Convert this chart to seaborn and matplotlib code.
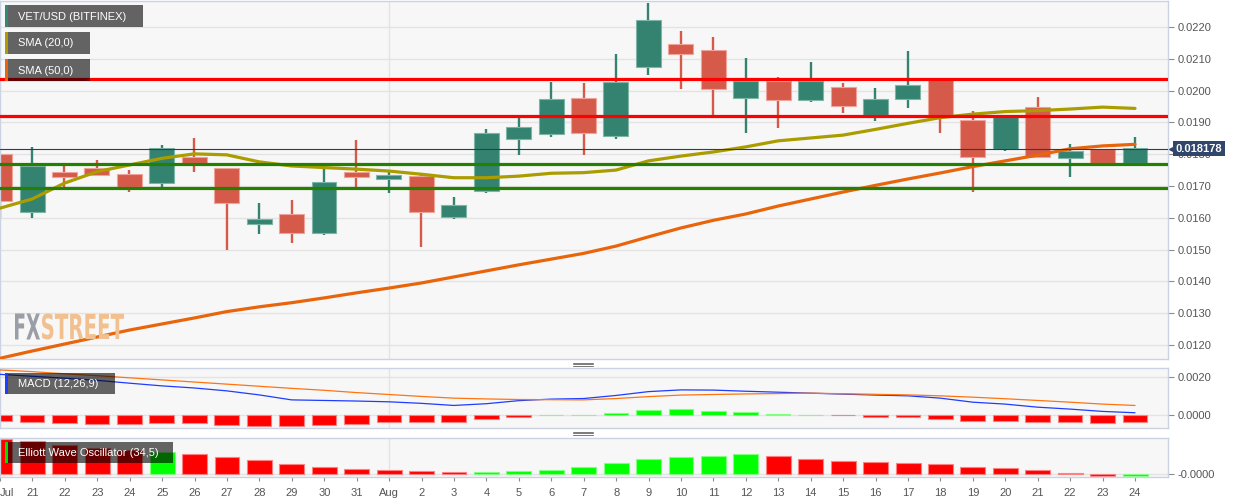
import matplotlib
matplotlib.use("Agg")
import matplotlib.pyplot as plt
import matplotlib.transforms as mtrans
from matplotlib.patches import Rectangle, PathPatch
from matplotlib.lines import Line2D
from matplotlib.textpath import TextPath
from matplotlib.font_manager import FontProperties
import numpy as np
import seaborn as sns

# ---- data (VET/USD daily, 20 Jul - 24 Aug) ----
day_labels = ["Jul", "21", "22", "23", "24", "25", "26", "27", "28", "29", "30", "31",
              "Aug", "2", "3", "4", "5", "6", "7", "8", "9", "10", "11", "12", "13",
              "14", "15", "16", "17", "18", "19", "20", "21", "22", "23", "24"]

opens = [0.01800, 0.01617, 0.01745, 0.01756, 0.01738, 0.01709, 0.01790, 0.01756, 0.01580,
         0.01612, 0.01551, 0.01743, 0.01722, 0.01731, 0.01604, 0.01685, 0.01849, 0.01863,
         0.01978, 0.01857, 0.02073, 0.02147, 0.02128, 0.01978, 0.02030, 0.01970, 0.02012,
         0.01922, 0.01975, 0.02036, 0.01907, 0.01817, 0.01948, 0.01789, 0.01815, 0.01771]
closes = [0.01654, 0.01764, 0.01727, 0.01734, 0.01698, 0.01819, 0.01773, 0.01646, 0.01597,
          0.01553, 0.01714, 0.01729, 0.01734, 0.01617, 0.01641, 0.01866, 0.01885, 0.01975,
          0.01868, 0.02026, 0.02221, 0.02114, 0.02004, 0.02030, 0.01970, 0.02029, 0.01953,
          0.01974, 0.02017, 0.01922, 0.01790, 0.01916, 0.01792, 0.01810, 0.01771, 0.01818]
highs = [0.01802, 0.01822, 0.01764, 0.01782, 0.01750, 0.01829, 0.01850, 0.01756, 0.01646,
         0.01656, 0.01761, 0.01845, 0.01745, 0.01733, 0.01665, 0.01878, 0.01916, 0.02027,
         0.02023, 0.02114, 0.02276, 0.02188, 0.02168, 0.02102, 0.02044, 0.02089, 0.02023,
         0.02007, 0.02126, 0.02036, 0.01937, 0.01920, 0.01979, 0.01831, 0.01815, 0.01853]
lows = [0.01599, 0.01598, 0.01698, 0.01733, 0.01680, 0.01698, 0.01745, 0.01499, 0.01548,
        0.01520, 0.01545, 0.01695, 0.01677, 0.01509, 0.01597, 0.01677, 0.01797, 0.01855,
        0.01797, 0.01847, 0.02048, 0.02004, 0.01923, 0.01866, 0.01881, 0.01963, 0.01929,
        0.01905, 0.01946, 0.01866, 0.01680, 0.01811, 0.01792, 0.01727, 0.01771, 0.01771]

sma20 = [0.01630, 0.01659, 0.01709, 0.01745, 0.01766, 0.01787, 0.01801, 0.01798, 0.01776,
         0.01763, 0.01758, 0.01753, 0.01747, 0.01737, 0.01726, 0.01726, 0.01731, 0.01740,
         0.01742, 0.01750, 0.01779, 0.01794, 0.01807, 0.01823, 0.01842, 0.01851, 0.01860,
         0.01878, 0.01897, 0.01915, 0.01926, 0.01934, 0.01937, 0.01942, 0.01948, 0.01944]
sma50 = [0.01158, 0.01181, 0.01203, 0.01225, 0.01247, 0.01266, 0.01285, 0.01305, 0.01320,
         0.01333, 0.01348, 0.01364, 0.01379, 0.01395, 0.01414, 0.01433, 0.01452, 0.01470,
         0.01488, 0.01511, 0.01540, 0.01568, 0.01592, 0.01612, 0.01637, 0.01659, 0.01681,
         0.01702, 0.01722, 0.01741, 0.01761, 0.01779, 0.01797, 0.01817, 0.01826, 0.01831]

resistance = [0.020355, 0.019201]
support = [0.017692, 0.016928]
last_price = 0.018178

macd_line = [0.00212, 0.00202, 0.00192, 0.00181, 0.00166, 0.00152, 0.00141, 0.00126, 0.00105,
             0.00079, 0.00076, 0.00073, 0.00069, 0.00061, 0.00050, 0.00059, 0.00075, 0.00083,
             0.00086, 0.00102, 0.00122, 0.00131, 0.00130, 0.00124, 0.00119, 0.00114, 0.00109,
             0.00104, 0.00100, 0.00088, 0.00067, 0.00057, 0.00041, 0.00031, 0.00019, 0.00012]
macd_signal = [0.00235, 0.00226, 0.00215, 0.00205, 0.00194, 0.00183, 0.00172, 0.00161, 0.00150,
               0.00139, 0.00129, 0.00117, 0.00107, 0.00097, 0.00088, 0.00084, 0.00081, 0.00080,
               0.00079, 0.00086, 0.00096, 0.00104, 0.00107, 0.00110, 0.00112, 0.00114, 0.00111,
               0.00108, 0.00105, 0.00100, 0.00093, 0.00085, 0.00076, 0.00067, 0.00057, 0.00050]
macd_hist = [-0.00031, -0.00036, -0.00041, -0.00044, -0.00047, -0.00041, -0.00040, -0.00050,
             -0.00055, -0.00059, -0.00052, -0.00044, -0.00038, -0.00038, -0.00038, -0.00023,
             -0.00010, 0.00001, 0.00001, 0.00012, 0.00027, 0.00031, 0.00020, 0.00015, 0.00006,
             0.00001, -0.00002, -0.00010, -0.00010, -0.00019, -0.00031, -0.00031, -0.00038,
             -0.00038, -0.00041, -0.00038]

ewo = [0.000700, 0.000660, 0.000594, 0.000534, 0.000480, 0.000440, 0.000406, 0.000354, 0.000280,
       0.000206, 0.000140, 0.000100, 0.000080, 0.000060, 0.000046, 0.000054, 0.000060, 0.000094,
       0.000140, 0.000226, 0.000300, 0.000354, 0.000360, 0.000400, 0.000374, 0.000314, 0.000260,
       0.000246, 0.000234, 0.000214, 0.000140, 0.000126, 0.000080, 0.000020, -0.000032, -0.000024]
ewo_up = [0, 0, 0, 0, 0, 1, 0, 0, 0, 0, 0, 0, 0, 0, 0, 1, 1, 1,
          1, 1, 1, 1, 1, 1, 0, 0, 0, 0, 0, 0, 0, 0, 0, 0, 0, 1]

# ---- style ----
sns.set_style("white")
plt.rcParams["font.family"] = ["Liberation Sans", "DejaVu Sans"]

W, H = 1244, 503
UP, DOWN = "#338370", "#d55a4a"
PANEL_BG, BORDER, GRID = "#f7f7f7", "#cbd2e2", "#e3e3e3"
x = np.arange(len(day_labels))

fig = plt.figure(figsize=(W / 100, H / 100), dpi=100)


def rect(top, bottom, left=0, right=1168):
    return [left / W, 1 - bottom / H, (right - left) / W, (bottom - top) / H]


ax = fig.add_axes(rect(1, 359))
axm = fig.add_axes(rect(368, 428))
axe = fig.add_axes(rect(438, 477))

for a in (ax, axm, axe):
    a.set_facecolor(PANEL_BG)
    for s in a.spines.values():
        s.set_color(BORDER)
        s.set_linewidth(1)
    a.set_xlim(0.012, 36.017)
    a.yaxis.tick_right()
    a.tick_params(axis="y", right=True, left=False, length=4, width=0.8, color="#8c8c8c",
                  labelcolor="#555555", labelsize=8, pad=3)
    a.grid(axis="y", color=GRID, lw=1)
    a.grid(axis="x", visible=False)
    a.axvline(12, color=GRID, lw=1, zorder=0)
    a.set_axisbelow(True)

# ---- main price panel ----
up = np.array(closes) >= np.array(opens)
colors = [UP if u else DOWN for u in up]
edges = ["#7fb5a7" if u else "#eea49a" for u in up]
ax.vlines(x, lows, highs, colors=colors, lw=1.7, zorder=2)
body = np.array(closes) - np.array(opens)
ax.bar(x, body, bottom=opens, width=0.77, color=colors, edgecolor=edges, lw=0.8, zorder=2)

sns.lineplot(x=x, y=sma20, ax=ax, color="#ab9c00", lw=2.3, zorder=3)
sns.lineplot(x=x, y=sma50, ax=ax, color="#e8650c", lw=2.3, zorder=3)

for r in resistance:
    ax.axhline(r, color="#ff0000", lw=2.3, zorder=4)
for s in support:
    ax.axhline(s, color="#248000", lw=2.3, zorder=4)
ax.axhline(last_price, color="#2c3d5c", lw=0.8, zorder=4)

ax.set_ylim(0.01156, 0.022817)
ax.set_yticks(np.round(np.arange(0.012, 0.0221, 0.001), 4))
ax.yaxis.set_major_formatter(matplotlib.ticker.FormatStrFormatter("%.4f"))
ax.set_xticks([])

ax.text(1.0066, last_price, "0.018178", transform=ax.get_yaxis_transform(), va="center",
        ha="left", color="white", fontsize=8, fontweight="bold", zorder=10, clip_on=False,
        bbox=dict(boxstyle="square,pad=0.22", fc="#30466b", ec="none"))
ax.plot([1.0035], [last_price], marker="<", ms=4, color="#30466b",
        transform=ax.get_yaxis_transform(), clip_on=False, zorder=10)

# ---- MACD panel ----
sns.lineplot(x=x, y=macd_line, ax=axm, color="#1f3cff", lw=0.9, zorder=3)
sns.lineplot(x=x, y=macd_signal, ax=axm, color="#ff7410", lw=0.9, zorder=3)
hcol = ["#00ff00" if v > 0 else "#ff0000" for v in macd_hist]
hedge = ["#80ff80" if v > 0 else "#ff8080" for v in macd_hist]
axm.bar(x, macd_hist, width=0.76, color=hcol, edgecolor=hedge, lw=0.8, zorder=2)
axm.set_ylim(-0.000674, 0.00245)
axm.set_yticks([0.0, 0.002])
axm.set_yticklabels(["0.0000", "0.0020"])
axm.set_xticks([])

# ---- Elliott wave oscillator ----
ecol = ["#00ff00" if u else "#ff0000" for u in ewo_up]
eedge = ["#80ff80" if u else "#ff8080" for u in ewo_up]
axe.bar(x, ewo, width=0.77, color=ecol, edgecolor=eedge, lw=0.8, zorder=2)
axe.set_ylim(-0.000054, 0.000726)
axe.set_yticks([0.0])
axe.set_yticklabels(["-0.0000"])
axe.set_xticks(x)
axe.set_xticklabels(day_labels)
axe.tick_params(axis="x", bottom=True, length=3, width=0.8, color="#8c8c8c",
                labelcolor="#555555", labelsize=8, pad=5)
axe.get_xticklabels()[0].set_ha("left")


# ---- overlay tags ----
def fx(px):
    return px / W


def fy(py):
    return 1 - py / H


def tag(x0, y0, w, h, text, strip):
    fig.add_artist(Rectangle((fx(x0), fy(y0 + h)), w / W, h / H, transform=fig.transFigure,
                             facecolor="black", alpha=0.6, lw=0, zorder=5))
    fig.add_artist(Rectangle((fx(x0), fy(y0 + h)), 3 / W, h / H, transform=fig.transFigure,
                             facecolor=strip, lw=0, zorder=6))
    fig.text(fx(x0 + 12.5), fy(y0 + h / 2 + 0.5), text, color="white", fontsize=8,
             va="center", ha="left", zorder=7)


tag(5, 5, 138, 22, "VET/USD (BITFINEX)", "#2f8a73")
tag(5, 32, 85, 22, "SMA (20,0)", "#ab9c00")
tag(5, 59, 85, 22, "SMA (50,0)", "#e8650c")
tag(5, 373, 110, 21, "MACD (12,26,9)", "#1f3cff")
tag(5, 442, 168, 21, "Elliott Wave Oscillator (34,5)", "#00e000")

# panel resize handles
for yy in (362.7, 364.3, 366.0, 431.7, 433.3, 435.0):
    fig.add_artist(Line2D([fx(573), fx(593)], [fy(yy), fy(yy)], transform=fig.transFigure,
                          color="#7a7a7a", lw=0.7))


# FXSTREET watermark, stretched into its box
def stretched(s, x0, x1, ytop, ybot, color):
    tp = TextPath((0, 0), s, size=10, prop=FontProperties(family="DejaVu Sans", weight="bold"))
    ext = tp.get_extents()
    tr = (mtrans.Affine2D().translate(-ext.x0, -ext.y0)
          .scale((x1 - x0) / ext.width, (ybot - ytop) / ext.height)
          .translate(x0, H - ybot))
    fig.add_artist(PathPatch(tp, transform=tr, facecolor=color, lw=0, zorder=2))


stretched("FX", 15, 40, 313.5, 339.5, "#9a9ea7")
stretched("STREET", 42, 124, 313.5, 339.5, "#f1c08e")

fig.savefig("out.png", dpi=100)
